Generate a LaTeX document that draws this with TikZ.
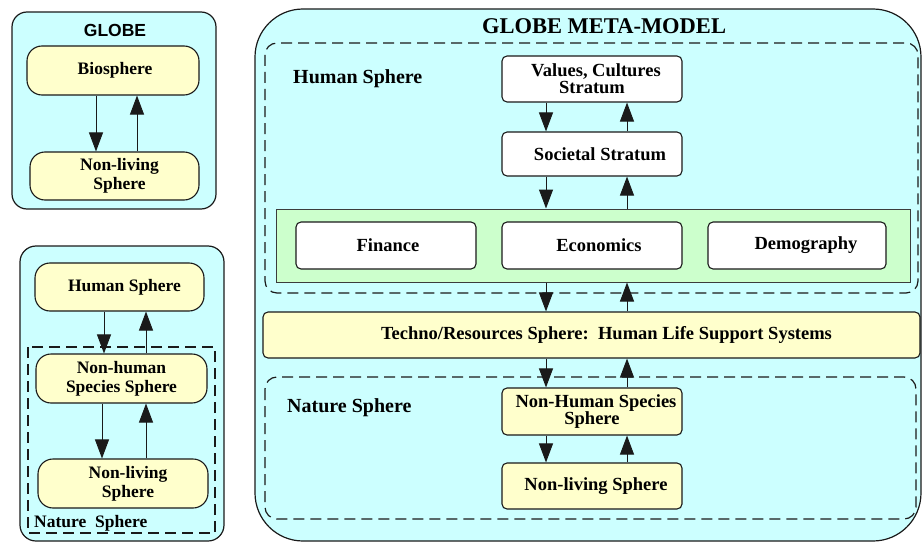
\documentclass[tikz,border=0pt]{standalone}
\usepackage{fontspec}
\setmainfont{Liberation Serif}
\newfontfamily\arialf{Liberation Sans}
\usetikzlibrary{arrows.meta}
\definecolor{panelc}{HTML}{CCFFFF}
\definecolor{yelc}{HTML}{FFFFCC}
\definecolor{grnc}{HTML}{CCFFCC}
\definecolor{linec}{HTML}{1A1A1A}
\begin{document}
\begin{tikzpicture}[x=1pt,y=-1pt,
  panel/.style={draw=linec, line width=1.2pt, fill=panelc},
  dashbox/.style={draw=linec, line width=1.2pt, dash pattern=on 11pt off 6pt},
  lbox/.style={draw=linec, line width=1.1pt, fill=yelc, rounded corners=15pt, inner sep=0pt,
     align=center, font=\bfseries\fontsize{17.5}{19}\selectfont},
  mbox/.style={draw=linec, line width=1.1pt, rounded corners=5pt, inner sep=0pt,
     align=center, font=\bfseries\fontsize{18.5}{17}\selectfont},
  wbox/.style={mbox, fill=white},
  ybox/.style={mbox, fill=yelc},
  gbox/.style={draw=linec!85, line width=1pt, fill=grnc, inner sep=0pt},
  tshift/.style={execute at begin node={\hspace*{#1}}},
  lbl/.style={inner sep=0pt, anchor=west, font=\bfseries\fontsize{20}{22}\selectfont},
  arr/.style={draw=linec, line width=1pt, -{Triangle[length=19pt,width=14pt]}}
]
\useasboundingbox (0,0) rectangle (924,543);

% ---------- GLOBE panel ----------
\draw[panel, rounded corners=15pt] (12,12) rectangle (216,209);
\node[inner sep=0pt, font=\arialf\bfseries\fontsize{17.5}{20}\selectfont] (gtitle) at (115,30) {GLOBE};
\node[lbox, minimum width=172, minimum height=49] (bio) at (113,70.5) {\hspace*{4pt}Biosphere};
\node[lbox, minimum width=169, minimum height=48] (nl1) at (114.5,176) {\hspace*{10pt}Non-living\\\hspace*{10pt}Sphere};
\coordinate (ga) at (96,0);
\coordinate (gb) at (137,0);
\draw[arr] (bio.south -| ga) -- (nl1.north -| ga);
\draw[arr] (nl1.north -| gb) -- (bio.south -| gb);

% ---------- second left panel ----------
\draw[panel, rounded corners=16pt] (20,246) rectangle (224,541);
\draw[dashbox] (28,347) rectangle (215,533);
\node[lbox, minimum width=169, minimum height=48] (hs2) at (119.5,287) {\hspace*{10pt}Human Sphere};
\node[lbox, minimum width=171, minimum height=49] (nhs2) at (121.5,378.5) {Non-human\\Species Sphere};
\node[lbox, minimum width=170, minimum height=49] (nl2) at (123,483.5) {\hspace*{10pt}Non-living\\\hspace*{10pt}Sphere};
\node[inner sep=0pt, anchor=west, font=\bfseries\fontsize{17.5}{19}\selectfont] (ns2) at (34,523) {Nature\ \ Sphere};
\coordinate (la) at (104,0);
\coordinate (lb) at (146,0);
\coordinate (lc) at (102,0);
\draw[arr] (hs2.south -| la) -- (nhs2.north -| la);
\draw[arr] (nhs2.north -| lb) -- (hs2.south -| lb);
\draw[arr] (nhs2.south -| lc) -- (nl2.north -| lc);
\draw[arr] (nl2.north -| lb) -- (nhs2.south -| lb);

% ---------- GLOBE META-MODEL panel ----------
\draw[panel, rounded corners=48pt] (255,9) rectangle (921,541);
\node[inner sep=0pt, font=\bfseries\fontsize{22.5}{24}\selectfont] (mtitle) at (604,26) {GLOBE META-MODEL};
\draw[dashbox, rounded corners=12pt] (265,43) rectangle (918,293);
\draw[dashbox, rounded corners=12pt] (265,377) rectangle (916,519);
\node[lbl] (hsl) at (293,79) {Human Sphere};
\node[lbl] (nsl) at (287,408) {Nature Sphere};

\node[wbox, minimum width=180, minimum height=46] (vals) at (592,79) {\hspace*{8pt}Values, Cultures\\Stratum};
\node[wbox, minimum width=180, minimum height=44, tshift=16pt] (soc) at (592,154) {Societal Stratum};
\node[gbox, minimum width=634, minimum height=73] (eco) at (593,245.5) {};
\node[wbox, minimum width=180, minimum height=47, tshift=4pt] (fin) at (386,245.5) {Finance};
\node[wbox, minimum width=180, minimum height=47, tshift=14pt] (econ) at (592,245.5) {Economics};
\node[wbox, minimum width=178, minimum height=47, tshift=18pt] (demo) at (797,245.5) {Demography};
\node[ybox, minimum width=657, minimum height=46, tshift=30pt] (tech) at (591.5,335) {Techno/Resources Sphere:\ \ Human Life Support Systems};
\node[ybox, minimum width=180, minimum height=47] (nhs3) at (592,411.5) {\hspace*{8pt}Non-Human Species\\Sphere};
\node[ybox, minimum width=180, minimum height=46, tshift=8pt] (nl3) at (592,486) {Non-living Sphere};

\coordinate (ma) at (546,0);
\coordinate (mb) at (627,0);
\draw[arr] (vals.south -| ma) -- (soc.north -| ma);
\draw[arr] (soc.north -| mb) -- (vals.south -| mb);
\draw[arr] (soc.south -| ma) -- (eco.north -| ma);
\draw[arr] (eco.north -| mb) -- (soc.south -| mb);
\draw[arr] (eco.south -| ma) -- (tech.north -| ma);
\draw[arr] (tech.north -| mb) -- (eco.south -| mb);
\draw[arr] (tech.south -| ma) -- (nhs3.north -| ma);
\draw[arr] (nhs3.north -| mb) -- (tech.south -| mb);
\draw[arr] (nhs3.south -| ma) -- (nl3.north -| ma);
\draw[arr] (nl3.north -| mb) -- (nhs3.south -| mb);
\end{tikzpicture}
\end{document}
